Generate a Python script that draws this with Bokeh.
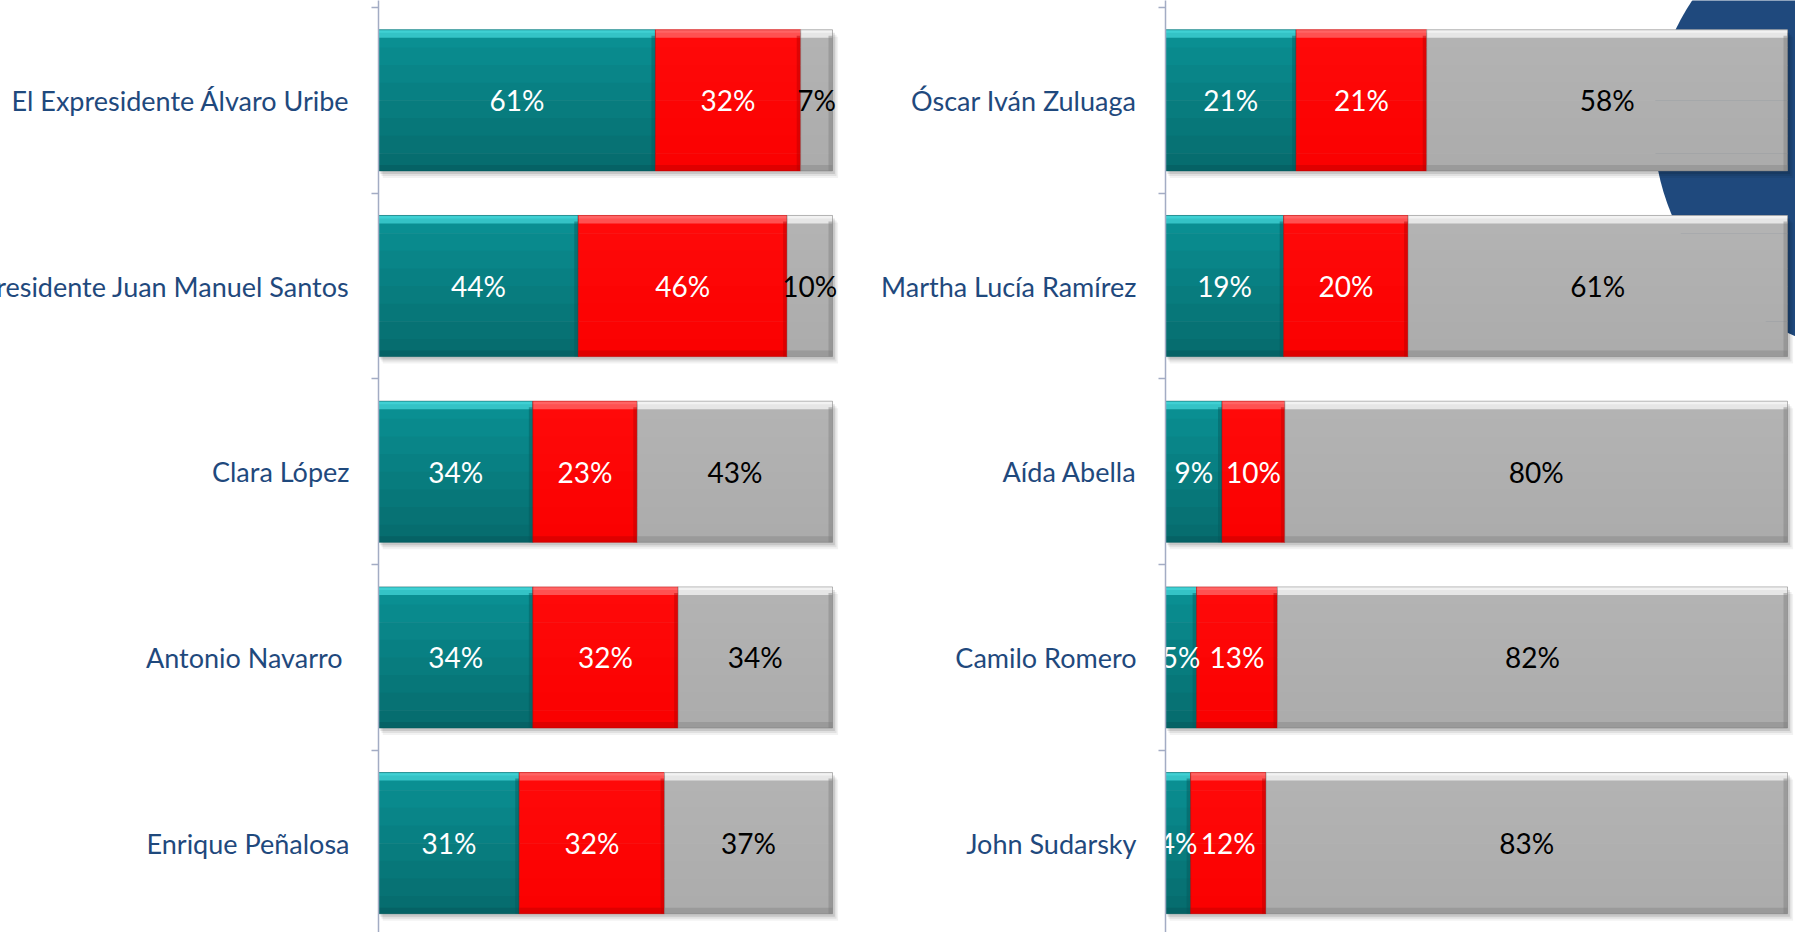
import numpy as np
from bokeh.plotting import figure
from bokeh.layouts import row
from bokeh.models import Range1d, FixedTicker
from bokeh.core.properties import value
from bokeh.embed import file_html
from bokeh.resources import INLINE

# ---------------- data ----------------
left_names = ["El Expresidente Álvaro Uribe", "El Presidente Juan Manuel Santos",
              "Clara López", "Antonio Navarro ", "Enrique Peñalosa"]
left_fav = [61, 44, 34, 34, 31]
left_unfav = [32, 46, 23, 32, 32]
left_nsnr = [7, 10, 43, 34, 37]

right_names = ["Óscar Iván Zuluaga", "Martha Lucía Ramírez", "Aída Abella",
               "Camilo Romero", "John Sudarsky"]
right_fav = [21, 19, 9, 5, 4]
right_unfav = [21, 20, 10, 13, 12]
right_nsnr = [58, 61, 80, 82, 83]

# ---------------- style ----------------
FONT = "Lato"
LABEL_COLOR = "#1F497D"
AXIS_COLOR = "#A3ACC4"
PX_ROW = 185.7
FIG_H = 932
TOP = 7          # pixels between the frame top and the first category boundary
BAR_H = 0.76
SHIFT = 60       # left part of the chart is cut off by the page edge
# (top colour, bottom colour, top bevel, bottom bevel, right edge, text colour)
STYLES = [
    ("#0A9194", "#066B6D", "#3FD0D3", "#055A5C", "#04585A", "white"),
    ("#FF0A0A", "#FA0000", "#FF6464", "#C80000", "#B80000", "white"),
    ("#B4B4B4", "#ABABAB", "#F2F2F2", "#8C8C8C", "#7E7E7E", "black"),
]


def hex2rgb(h):
    h = h.lstrip("#")
    return np.array([int(h[i:i + 2], 16) for i in (0, 2, 4)], dtype=float)


def rgb2hex(c):
    return "#%02x%02x%02x" % tuple(int(round(v)) for v in c)


def make_panel(names, series, width, border_left, px_pct, decor=None):
    n = len(names)
    frame_w = width - border_left
    x_end = frame_w / px_pct
    y_top = -TOP / PX_ROW
    y_end = (FIG_H - TOP) / PX_ROW
    p = figure(width=width, height=FIG_H, output_backend="svg", toolbar_location=None,
               x_range=Range1d(0, x_end), y_range=Range1d(y_end, y_top),
               min_border_left=border_left, min_border_right=0,
               min_border_top=0, min_border_bottom=0)
    p.outline_line_color = None
    p.xgrid.visible = False
    p.ygrid.visible = False
    p.xaxis.visible = False
    p.background_fill_color = "white"
    p.border_fill_color = "white"

    centers = np.arange(n) + 0.5
    bounds = list(np.arange(n + 1).astype(float))
    ax = p.yaxis[0]
    ax.ticker = FixedTicker(ticks=list(centers), minor_ticks=bounds)
    ax.major_label_overrides = {float(c): nm for c, nm in zip(centers, names)}
    ax.major_tick_out = 0
    ax.major_tick_in = 0
    ax.minor_tick_out = 7
    ax.minor_tick_in = 0
    ax.minor_tick_line_color = AXIS_COLOR
    ax.minor_tick_line_width = 1.5
    ax.axis_line_color = AXIS_COLOR
    ax.axis_line_width = 1.5
    ax.major_label_standoff = 22
    ax.major_label_text_font = FONT
    ax.major_label_text_font_size = "27px"
    ax.major_label_text_color = LABEL_COLOR

    if decor is not None:
        cx, cy, r = decor
        p.circle(x=[cx], y=[cy], radius=r, fill_color="#1F497D", line_color=None)

    vals = np.array(series, dtype=float)  # shape (3, n)
    totals = vals.sum(axis=0)
    cum = np.cumsum(vals, axis=0) / totals * 100.0
    lefts = np.vstack([np.zeros(n), cum[:-1]])
    rights = cum

    dx = 1.0 / px_pct
    dy = 1.0 / PX_ROW
    tops = centers - BAR_H / 2
    bots = centers + BAR_H / 2

    # drop shadow
    for off, alpha in ((7, 0.05), (5, 0.07), (3, 0.11)):
        p.quad(left=np.zeros(n) + off * dx * 0.6, right=rights[-1] + off * dx * 0.8,
               top=tops + off * dy, bottom=bots + off * dy,
               fill_color="black", fill_alpha=alpha, line_color=None)

    nslice = 8
    for k, st in enumerate(STYLES):
        c_top, c_bot, bev_t, bev_b, edge_r, txt_col = st
        ct, cb = hex2rgb(c_top), hex2rgb(c_bot)
        L, R = lefts[k], rights[k]
        for s in range(nslice):
            f = (s + 0.5) / nslice
            col = rgb2hex(ct * (1 - f) + cb * f)
            y0 = tops + BAR_H * s / nslice
            y1 = tops + BAR_H * (s + 1) / nslice + dy * 0.5
            p.quad(left=L, right=R, top=y0, bottom=np.minimum(y1, bots),
                   fill_color=col, line_color=None)
        p.quad(left=L, right=R, top=tops, bottom=tops + 8 * dy,
               fill_color=bev_t, fill_alpha=0.8, line_color=None)
        p.quad(left=L, right=R, top=tops, bottom=tops + 3 * dy,
               fill_color=bev_t, line_color=None)
        p.quad(left=L, right=R, top=bots - 6 * dy, bottom=bots,
               fill_color=bev_b, fill_alpha=0.55, line_color=None)
        p.quad(left=np.maximum(R - 4 * dx, L), right=R, top=tops + 6 * dy, bottom=bots,
               fill_color=edge_r, fill_alpha=0.45, line_color=None)
        p.quad(left=L, right=R, top=tops, bottom=bots, fill_alpha=0,
               line_color=edge_r, line_alpha=0.5, line_width=1)

    for k, st in enumerate(STYLES):
        txt_col = st[5]
        mids = (lefts[k] + rights[k]) / 2
        labels = [f"{int(v)}%" for v in series[k]]
        p.text(x=mids, y=centers, text=labels, text_align="center",
               text_baseline="middle", text_font=value(FONT),
               text_font_size="28px", text_color=txt_col)
    return p


# left panel: axis at x=378, 100% at x=832 (page pixels)
LEFT_END = 850
left = make_panel(left_names, [left_fav, left_unfav, left_nsnr],
                  width=LEFT_END + SHIFT, border_left=378 + SHIFT, px_pct=4.54)

# right panel: axis at x=1165, 100% at x=1787
right = make_panel(right_names, [right_fav, right_unfav, right_nsnr],
                   width=1795 - LEFT_END, border_left=1165 - LEFT_END, px_pct=6.22,
                   decor=(114.8, 0.641, 36.3))

layout = row(left, right, styles={"margin-left": f"-{SHIFT}px"})
open("out.html", "w").write(file_html(layout, INLINE))
